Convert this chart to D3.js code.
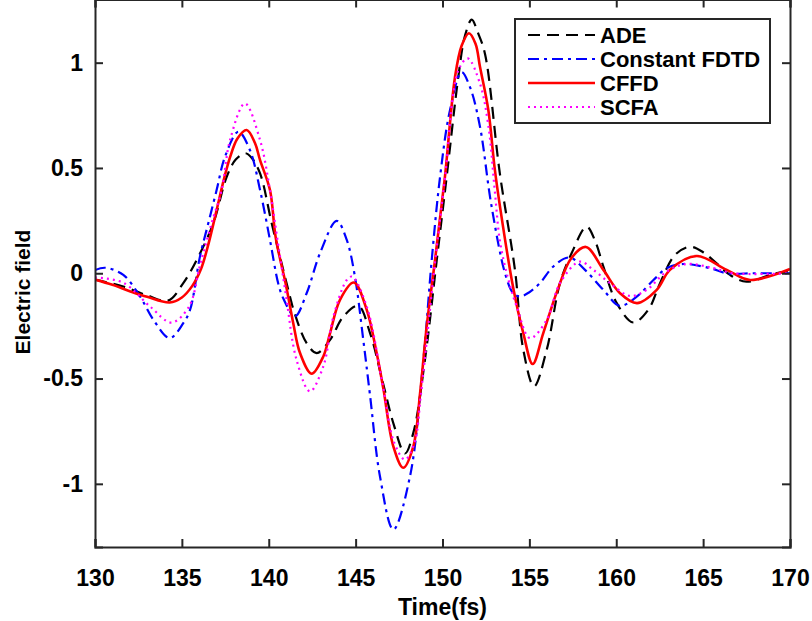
<!DOCTYPE html>
<html>
<head>
<meta charset="utf-8">
<script src="https://cdn.jsdelivr.net/npm/d3@7"></script>
<style>
  html, body { margin: 0; padding: 0; background: #fff; }
  svg text { font-family: "Liberation Sans", Arial, Helvetica, sans-serif; font-weight: bold; fill: #000; }
</style>
</head>
<body>
<svg id="chart" width="812" height="621"></svg>
<script>
// ---- data (time in fs, electric field) ----
const adeT = [130,131.63,133.0,134.2,135.08,135.95,136.81,137.58,138.1,138.65,139.0,139.5,140.17,140.7,141.22,141.45,142.18,142.76,143.53,144.29,145.15,145.83,146.6,147.2,147.84,148.32,148.99,149.67,150.24,150.91,151.3,151.68,152.05,152.45,153.3,154.17,154.65,155.27,156.0,156.76,157.43,158.3,158.8,159.26,160.03,160.98,161.84,162.52,163.38,164.24,165.0,165.78,166.55,167.5,169.04,170];
const adeV = [-0.03,-0.063,-0.105,-0.13,-0.047,0.079,0.237,0.458,0.54,0.57,0.55,0.474,0.237,0.06,-0.11,-0.18,-0.332,-0.379,-0.316,-0.206,-0.155,-0.284,-0.53,-0.72,-0.856,-0.758,-0.411,0.063,0.458,0.932,1.13,1.204,1.14,1.04,0.474,0.016,-0.363,-0.537,-0.363,-0.047,0.095,0.221,0.15,0.032,-0.142,-0.234,-0.174,-0.047,0.087,0.126,0.1,0.047,-0.008,-0.04,-0.003,0.01];

const fdtdT = [130,130.6,131.63,132.59,133.36,134.3,135.08,135.47,136.04,136.52,137.0,137.48,138.25,138.92,139.5,140.07,140.55,140.84,141.51,142.18,142.95,143.91,144.49,144.96,145.44,145.83,146.4,147.17,148.13,148.9,149.38,149.86,150.43,151.1,151.6,152.16,152.8,153.6,154.07,154.46,155.0,155.61,156.38,157.3,158.2,159.26,160.2,161.18,162.14,162.9,163.86,165.4,166.36,168,170];
const fdtdV = [0.015,0.026,-0.008,-0.11,-0.221,-0.308,-0.237,-0.174,0.079,0.237,0.395,0.553,0.672,0.584,0.395,0.158,-0.05,-0.12,-0.205,-0.095,0.095,0.249,0.158,-0.016,-0.316,-0.58,-0.964,-1.217,-0.964,-0.411,0.063,0.458,0.774,0.955,0.88,0.695,0.33,0.0,-0.095,-0.11,-0.09,-0.047,0.032,0.075,0.016,-0.079,-0.155,-0.111,-0.032,0.024,0.044,0.024,0.0,0.0,0.0];

const cffdT = [130,131,132,133,134.3,135.0,135.6,136.1,136.5,137.0,137.4,137.77,138.2,138.73,139.2,139.5,140.07,140.4,141.0,141.41,141.8,142.47,143.14,143.53,144.1,144.9,145.64,146.21,146.6,147.17,147.74,148.32,148.71,149.09,149.57,150.14,150.72,151.1,151.52,151.9,152.16,152.64,153.0,153.31,154.05,154.65,155.19,155.8,156.6,157.4,158.25,159.26,160.22,161.2,162.33,163.09,164.63,166.36,167.7,170];
const cffdV = [-0.03,-0.055,-0.085,-0.112,-0.139,-0.115,-0.06,0.02,0.13,0.3,0.44,0.55,0.64,0.68,0.62,0.537,0.395,0.17,-0.06,-0.237,-0.379,-0.477,-0.395,-0.284,-0.126,-0.044,-0.174,-0.379,-0.55,-0.822,-0.924,-0.822,-0.569,-0.253,0.063,0.458,0.932,1.08,1.14,1.09,0.979,0.774,0.5,0.316,-0.06,-0.284,-0.431,-0.284,-0.085,0.07,0.125,0.016,-0.095,-0.142,-0.079,0.016,0.082,0.016,-0.032,0.02];

const scfaT = [130,131.63,133.17,134.4,135.4,136.05,136.71,137.29,137.77,138.63,139.5,140.07,140.5,141.0,141.6,142.37,143.14,143.72,144.49,144.8,145.64,146.6,147.2,147.84,148.4,148.75,149.57,150.14,150.91,151.45,152.16,152.64,153.0,153.31,153.79,154.27,155.04,156.0,156.76,157.9,158.68,159.64,160.8,161.75,162.9,164.05,165.59,166.7,170];
const scfaV = [-0.02,-0.045,-0.158,-0.234,-0.16,0.04,0.237,0.395,0.632,0.806,0.632,0.395,0.16,-0.11,-0.411,-0.561,-0.442,-0.206,-0.032,-0.016,-0.158,-0.55,-0.8,-0.885,-0.8,-0.58,0.05,0.45,0.963,1.02,0.9,0.7,0.4,0.15,-0.03,-0.158,-0.308,-0.221,-0.047,0.055,0.016,-0.047,-0.108,-0.079,0.008,0.044,0.024,0.0,0.0];

const seriesNames = ["ADE", "Constant FDTD", "CFFD", "SCFA"];
const xTicks = [130,135,140,145,150,155,160,165,170];
const yTicks = [-1,-0.5,0,0.5,1];
const yTickLabels = ["-1","-0.5","0","0.5","1"];
const xLabel = "Time(fs)";
const yLabel = "Electric field";

// ---- styles ----
const styles = [
  { color: "#000000", width: 2.2, dash: "12,7" },
  { color: "#0000ff", width: 2.2, dash: "11,5,3,5" },
  { color: "#ff0000", width: 2.6, dash: null },
  { color: "#ff00ff", width: 2.2, dash: "2,4" }
];

const series = [
  { name: seriesNames[0], t: adeT,  v: adeV },
  { name: seriesNames[1], t: fdtdT, v: fdtdV },
  { name: seriesNames[2], t: cffdT, v: cffdV },
  { name: seriesNames[3], t: scfaT, v: scfaV }
];

const svg = d3.select("#chart");
const L = 95, R = 790, T = -0.5, B = 547;
const x = d3.scaleLinear().domain([130, 170]).range([L, R]);
const y = d3.scaleLinear().domain([-1.3, 1.3]).range([B, T]);
const axisColor = "#262626";

svg.append("defs").append("clipPath").attr("id", "clip")
  .append("rect").attr("x", L).attr("y", 0).attr("width", R - L).attr("height", B);

const line = d3.line()
  .x(d => x(d[0])).y(d => y(d[1]))
  .curve(d3.curveCatmullRom.alpha(0.5));

const g = svg.append("g").attr("clip-path", "url(#clip)");
series.forEach((s, i) => {
  const pts = s.t.map((t, k) => [t, s.v[k]]);
  g.append("path")
    .attr("d", line(pts))
    .attr("fill", "none")
    .attr("stroke", styles[i].color)
    .attr("stroke-width", styles[i].width)
    .attr("stroke-dasharray", styles[i].dash)
    .attr("stroke-linejoin", "round");
});

// axes with inward ticks, box
const tickLen = 8;
const xAxisB = d3.axisBottom(x).tickValues(xTicks).tickSize(-tickLen).tickPadding(23).tickFormat(d3.format("d"));
const xAxisT = d3.axisTop(x).tickValues(xTicks).tickSize(-tickLen).tickFormat("");
const yAxisL = d3.axisLeft(y).tickValues(yTicks).tickSize(-tickLen).tickPadding(12).tickFormat((d, i) => yTickLabels[i]);
const yAxisR = d3.axisRight(y).tickValues(yTicks).tickSize(-tickLen).tickFormat("");

function styleAxis(sel) {
  sel.selectAll("path").attr("stroke", axisColor).attr("stroke-width", 2);
  sel.selectAll("line").attr("stroke", axisColor).attr("stroke-width", 2);
  sel.selectAll("text").attr("font-size", 23).attr("font-family", null).attr("fill", "#000");
}
svg.append("g").attr("transform", `translate(0,${B})`).call(xAxisB).call(styleAxis);
svg.append("g").attr("transform", `translate(0,${T})`).call(xAxisT).call(styleAxis);
svg.append("g").attr("transform", `translate(${L},0)`).call(yAxisL).call(styleAxis);
svg.append("g").attr("transform", `translate(${R},0)`).call(yAxisR).call(styleAxis);
svg.selectAll(".domain").attr("stroke", axisColor).attr("stroke-width", 2);

svg.append("text").attr("x", (L + R) / 2).attr("y", 615)
  .attr("text-anchor", "middle").attr("font-size", 23).text(xLabel);
svg.append("text").attr("transform", `translate(30,292) rotate(-90)`)
  .attr("text-anchor", "middle").attr("font-size", 21).text(yLabel);

// legend
const lg = svg.append("g");
const lx = 515, ly = 19, lw = 255, lh = 104;
lg.append("rect").attr("x", lx).attr("y", ly).attr("width", lw).attr("height", lh)
  .attr("fill", "#fff").attr("stroke", axisColor).attr("stroke-width", 2);
series.forEach((s, i) => {
  const yy = ly + 16 + i * 24;
  lg.append("line").attr("x1", lx + 13).attr("x2", lx + 80).attr("y1", yy).attr("y2", yy)
    .attr("stroke", styles[i].color).attr("stroke-width", styles[i].width)
    .attr("stroke-dasharray", styles[i].dash);
  lg.append("text").attr("x", lx + 85).attr("y", yy).attr("dy", "0.36em")
    .attr("font-size", 22).text(s.name);
});
</script>
</body>
</html>
